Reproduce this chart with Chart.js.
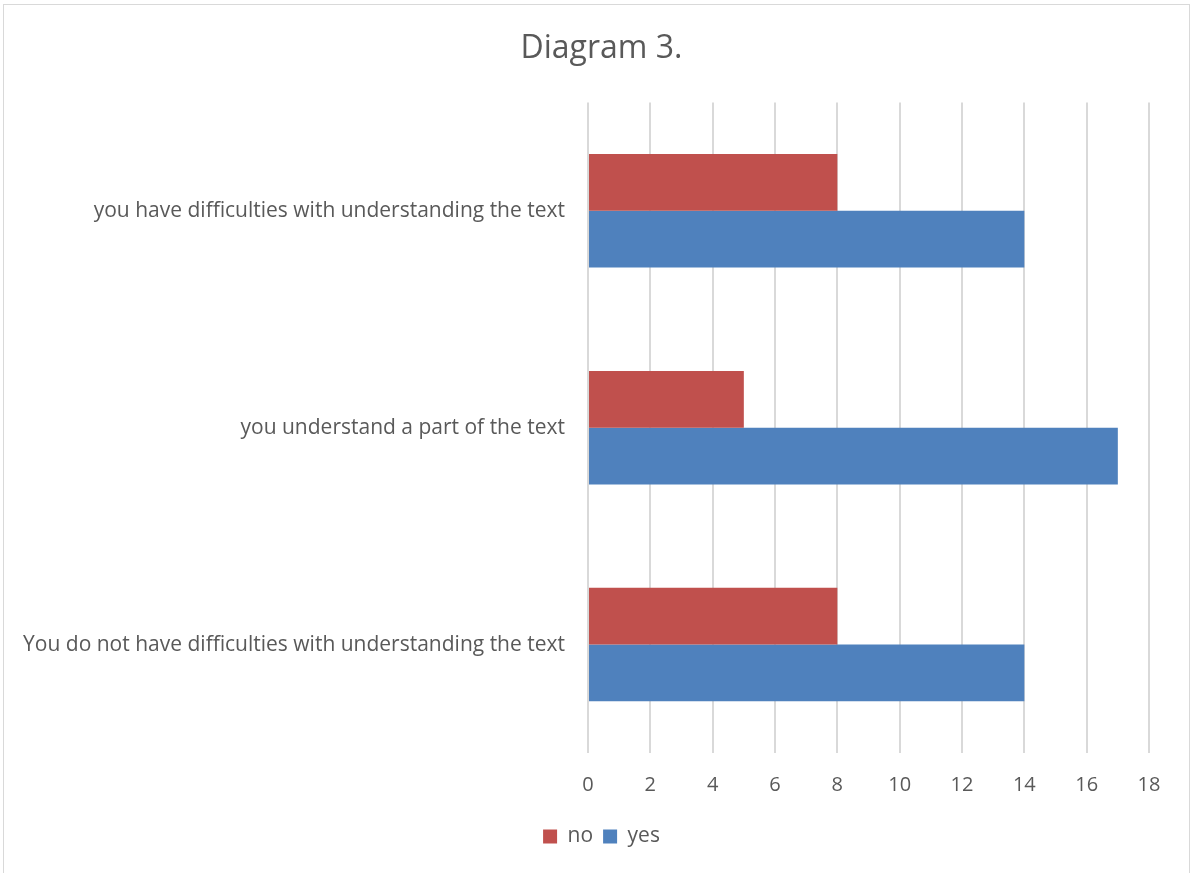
<!DOCTYPE html>
<html>
<head>
<meta charset="utf-8">
<script src="https://cdn.jsdelivr.net/npm/chart.js@4/dist/chart.umd.min.js"></script>
<style>
  body { margin: 0; background: #fff; }
  #wrap { position: relative; width: 1191px; height: 873px; }
  #frame { position: absolute; left: 3px; top: 4px; width: 1185px; height: 870px; border: 1px solid #D9D9D9; border-bottom: none; }
  #myChart { position: absolute; left: 0; top: 0; }
</style>
</head>
<body>
<div id="wrap">
  <div id="frame"></div>
  <canvas id="myChart" width="1191" height="873"></canvas>
</div>
<script>
const categories = [
  "you have difficulties with understanding the text",
  "you understand a part of the text",
  "You do not have difficulties with understanding the text"
];
const noValues = [8, 5, 8];
const yesValues = [14, 17, 14];
const xTicks = [0, 2, 4, 6, 8, 10, 12, 14, 16, 18];

const textColor = "#595959";
const fontName = "Open Sans";

// title and legend sit a bit right of the canvas centre in the original
const shiftBoxes = {
  id: "shiftBoxes",
  afterLayout(chart) {
    for (const box of [chart.titleBlock, chart.legend]) {
      box.left += 27;
      box.right += 27;
    }
  }
};

new Chart("myChart", {
  type: "bar",
  data: {
    labels: categories,
    datasets: [{
      label: "no",
      backgroundColor: "#C0504D",
      data: noValues
    }, {
      label: "yes",
      backgroundColor: "#4F81BD",
      data: yesValues
    }]
  },
  options: {
    indexAxis: "y",
    responsive: false,
    animation: false,
    categoryPercentage: 0.523,
    barPercentage: 1,
    layout: {padding: {top: 4, right: 42, bottom: 16, left: 0}},
    scales: {
      x: {
        min: 0,
        max: 18,
        afterBuildTicks: (s) => { s.ticks = xTicks.map(v => ({value: v})); },
        afterFit: (s) => { s.height = 63; },
        grid: {color: "#D9D9D9", lineWidth: 2, drawTicks: false},
        border: {display: false},
        ticks: {color: textColor, font: {family: fontName, size: 20}, padding: 20}
      },
      y: {
        grid: {display: false, drawTicks: false},
        border: {display: false},
        afterFit: (s) => { s.width = 588; },
        ticks: {color: textColor, font: {family: fontName, size: 21}, padding: 23}
      }
    },
    plugins: {
      title: {
        display: true,
        text: "Diagram 3.",
        color: textColor,
        font: {family: fontName, size: 32, weight: "normal"},
        padding: {top: 26, bottom: 34}
      },
      legend: {
        position: "bottom",
        labels: {
          color: textColor,
          font: {family: fontName, size: 21},
          boxWidth: 14,
          boxHeight: 14,
          padding: 10
        }
      },
      tooltip: {enabled: false}
    }
  },
  plugins: [shiftBoxes]
});
</script>
</body>
</html>
